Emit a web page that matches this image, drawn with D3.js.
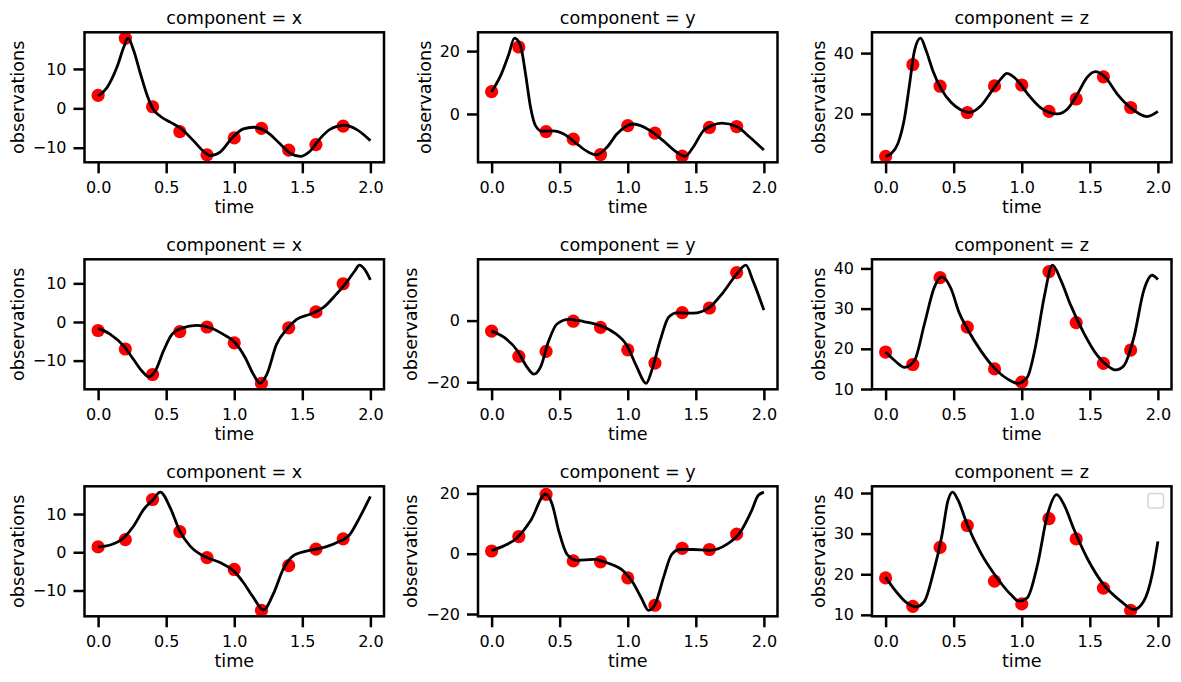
<!DOCTYPE html>
<html><head><meta charset="utf-8">
<script src="https://cdn.jsdelivr.net/npm/d3@7"></script>
<style>
body{margin:0;background:#fff}
svg{display:block}
text{font-family:"DejaVu Sans",sans-serif;fill:#000}
</style>
</head><body>
<svg id="chart" width="1181" height="682"></svg>
<script>
// ---------------- data ----------------
const sampleTimes = [0, 0.2, 0.4, 0.6, 0.8, 1.0, 1.2, 1.4, 1.6, 1.8];
const xTicks = [0, 0.5, 1.0, 1.5, 2.0];
const components = ["x", "y", "z"];

// observations (red points), one array per panel
const obsR1X = [3.3, 17.8, 0.4, -5.9, -11.8, -7.5, -5.1, -10.6, -9.2, -4.5];
const obsR1Y = [7.1, 21.3, -5.6, -8.0, -12.9, -3.7, -6.1, -13.4, -4.3, -4.0];
const obsR1Z = [6.0, 36.2, 29.1, 20.4, 29.2, 29.5, 20.8, 24.9, 32.2, 22.1];
const obsR2X = [-2.2, -7.0, -13.6, -2.5, -1.3, -5.4, -15.9, -1.5, 2.6, 9.9];
const obsR2Y = [-3.4, -11.6, -10.0, -0.2, -2.2, -9.5, -13.8, 2.6, 4.1, 15.6];
const obsR2Z = [19.2, 16.1, 37.7, 25.4, 15.0, 11.7, 39.2, 26.5, 16.4, 19.7];
const obsR3X = [1.4, 3.3, 13.8, 5.4, -1.4, -4.5, -15.2, -3.5, 0.8, 3.5];
const obsR3Y = [0.9, 5.7, 19.7, -2.4, -2.7, -8.0, -17.1, 1.8, 1.4, 6.5];
const obsR3Z = [19.1, 12.1, 26.6, 32.0, 18.3, 12.7, 33.7, 28.7, 16.6, 11.1];

// trajectory (black line), [time, value]
const trajR1X = [[0,3.1],[0.066,5.3],[0.14,10.6],[0.19,15.7],[0.22,17.8],[0.26,14.8],[0.31,8.9],[0.36,3.3],[0.40,0.0],[0.457,-2.0],[0.53,-3.5],[0.6,-4.9],[0.70,-8.2],[0.774,-10.9],[0.823,-12.0],[0.896,-11.1],[0.99,-7.3],[1.067,-5.2],[1.14,-4.8],[1.24,-6.0],[1.336,-9.0],[1.41,-11.4],[1.487,-12.2],[1.556,-10.9],[1.63,-7.7],[1.70,-5.4],[1.81,-4.3],[1.90,-5.4],[2.0,-8.2]];
const trajR1Y = [[0,7.1],[0.066,12.2],[0.127,19.1],[0.168,24.1],[0.212,21.8],[0.249,12.8],[0.286,2.1],[0.322,-3.7],[0.371,-5.5],[0.45,-5.4],[0.53,-6.4],[0.628,-9.6],[0.713,-12.2],[0.77,-13.0],[0.847,-10.6],[0.92,-6.4],[1.04,-3.2],[1.165,-5.3],[1.26,-8.5],[1.36,-12.2],[1.42,-13.5],[1.48,-10.6],[1.556,-5.3],[1.617,-3.7],[1.69,-2.9],[1.80,-4.0],[1.897,-7.4],[2.0,-11.5]];
const trajR1Z = [[0,6.0],[0.04,6.9],[0.09,10.2],[0.14,18.9],[0.176,29.8],[0.212,40.8],[0.256,44.9],[0.298,40.8],[0.347,34.2],[0.408,28.2],[0.48,23.8],[0.554,21.3],[0.615,20.5],[0.70,22.7],[0.786,27.9],[0.847,31.5],[0.891,33.3],[0.97,30.9],[1.043,26.6],[1.14,22.0],[1.262,20.0],[1.336,21.6],[1.41,26.6],[1.48,32.0],[1.54,33.9],[1.61,32.2],[1.70,26.6],[1.80,22.0],[1.92,19.1],[2.0,20.8]];
const trajR2X = [[0,-1.6],[0.09,-3.2],[0.188,-6.2],[0.26,-9.7],[0.322,-12.7],[0.371,-14.2],[0.42,-12.7],[0.48,-7.5],[0.542,-3.2],[0.615,-1.6],[0.725,-0.9],[0.823,-1.5],[0.92,-3.2],[1.006,-5.3],[1.08,-9.2],[1.14,-13.5],[1.19,-15.9],[1.24,-13.5],[1.31,-5.8],[1.385,-1.9],[1.458,0.7],[1.556,2.0],[1.653,3.7],[1.75,7.2],[1.824,10.2],[1.885,13.2],[1.92,14.7],[1.958,13.6],[2.0,10.9]];
const trajR2Y = [[0,-3.4],[0.09,-5.4],[0.188,-9.7],[0.26,-15.1],[0.31,-17.4],[0.359,-15.1],[0.42,-6.5],[0.48,-1.1],[0.567,0.4],[0.676,-0.3],[0.798,-1.6],[0.896,-3.8],[0.994,-8.1],[1.067,-15.1],[1.135,-20.4],[1.177,-16.1],[1.238,-6.5],[1.3,1.1],[1.36,2.5],[1.48,2.4],[1.6,4.3],[1.70,9.1],[1.80,15.1],[1.868,18.0],[1.92,12.9],[2.0,3.4]];
const trajR2Z = [[0,19.2],[0.066,17.1],[0.14,15.4],[0.212,17.1],[0.286,26.3],[0.359,35.4],[0.413,37.9],[0.48,35.0],[0.54,29.0],[0.6,25.0],[0.7,19.5],[0.8,15.2],[0.9,12.4],[0.97,11.4],[1.04,12.9],[1.10,20.4],[1.165,32.9],[1.226,40.8],[1.287,37.1],[1.36,30.8],[1.458,23.8],[1.556,18.3],[1.63,15.8],[1.69,14.75],[1.75,15.8],[1.824,22.9],[1.897,34.6],[1.958,38.3],[2.0,37.25]];
const trajR3X = [[0,1.4],[0.09,1.9],[0.188,3.8],[0.26,6.8],[0.335,11.2],[0.4,13.6],[0.457,15.7],[0.53,11.6],[0.6,5.5],[0.676,1.6],[0.774,-1.0],[0.896,-2.7],[0.994,-4.8],[1.067,-7.9],[1.14,-11.8],[1.214,-15.1],[1.287,-10.9],[1.36,-4.4],[1.43,-1.0],[1.53,0.3],[1.63,1.0],[1.75,2.5],[1.85,4.7],[1.92,9.0],[2.0,14.6]];
const trajR3Y = [[0,1.1],[0.09,2.6],[0.188,5.3],[0.286,10.9],[0.396,19.8],[0.444,16.5],[0.493,7.6],[0.554,-0.2],[0.628,-2.2],[0.75,-1.9],[0.847,-3.0],[0.97,-5.8],[1.04,-9.7],[1.1,-14.7],[1.153,-18.8],[1.2,-16.9],[1.262,-8.0],[1.323,-0.2],[1.384,1.4],[1.48,1.4],[1.6,1.1],[1.727,3.1],[1.824,7.0],[1.91,14.3],[1.958,19.3],[2.0,20.4]];
const trajR3Z = [[0,19.3],[0.066,16.2],[0.14,13.4],[0.225,12.0],[0.286,13.4],[0.347,19.9],[0.415,29.8],[0.457,38.0],[0.493,40.2],[0.53,38.4],[0.6,32.2],[0.70,25.2],[0.823,18.9],[0.92,15.0],[0.98,13.4],[1.04,14.2],[1.116,22.4],[1.189,34.7],[1.257,39.6],[1.311,37.1],[1.384,31.0],[1.48,24.0],[1.6,17.5],[1.727,13.4],[1.824,11.3],[1.897,13.4],[1.958,19.9],[2.0,28.1]];

// y tick values per panel
const yTicksR1X = [-10, 0, 10];
const yTicksR1Y = [0, 20];
const yTicksR1Z = [20, 40];
const yTicksR2X = [-10, 0, 10];
const yTicksR2Y = [-20, 0];
const yTicksR2Z = [10, 20, 30, 40];
const yTicksR3X = [-10, 0, 10];
const yTicksR3Y = [-20, 0, 20];
const yTicksR3Z = [10, 20, 30, 40];

const panels = [
  {row:0, col:0, comp:components[0], obs:obsR1X, traj:trajR1X, yTicks:yTicksR1X},
  {row:0, col:1, comp:components[1], obs:obsR1Y, traj:trajR1Y, yTicks:yTicksR1Y},
  {row:0, col:2, comp:components[2], obs:obsR1Z, traj:trajR1Z, yTicks:yTicksR1Z},
  {row:1, col:0, comp:components[0], obs:obsR2X, traj:trajR2X, yTicks:yTicksR2X},
  {row:1, col:1, comp:components[1], obs:obsR2Y, traj:trajR2Y, yTicks:yTicksR2Y},
  {row:1, col:2, comp:components[2], obs:obsR2Z, traj:trajR2Z, yTicks:yTicksR2Z},
  {row:2, col:0, comp:components[0], obs:obsR3X, traj:trajR3X, yTicks:yTicksR3X},
  {row:2, col:1, comp:components[1], obs:obsR3Y, traj:trajR3Y, yTicks:yTicksR3Y},
  {row:2, col:2, comp:components[2], obs:obsR3Z, traj:trajR3Z, yTicks:yTicksR3Z, legend:true}
];

// ---------------- layout ----------------
const colLeft = [84.5, 478, 872];
const rowTop = [32.3, 259.3, 486.3];
const axW = 299.5, axH = 130;
const tickLen = 11, tickW = 2.5, spineW = 2.5;
const tickFont = 16, labelFont = 17.6;

const svg = d3.select("#chart");

function padded(ext) {
  const m = (ext[1] - ext[0]) * 0.05;
  return [ext[0] - m, ext[1] + m];
}

panels.forEach((p, i) => {
  const g = svg.append("g").attr("transform", `translate(${colLeft[p.col]},${rowTop[p.row]})`);

  const tExt = d3.extent(p.traj.map(d => d[0]).concat(sampleTimes));
  const vExt = d3.extent(p.traj.map(d => d[1]).concat(p.obs));
  const x = d3.scaleLinear().domain(padded(tExt)).range([0, axW]);
  const y = d3.scaleLinear().domain(padded(vExt)).range([axH, 0]);

  const clipId = "clip" + i;
  g.append("clipPath").attr("id", clipId)
    .append("rect").attr("width", axW).attr("height", axH);

  const plot = g.append("g").attr("clip-path", `url(#${clipId})`);

  // scatter
  plot.selectAll("circle").data(p.obs).join("circle")
    .attr("cx", (d, j) => x(sampleTimes[j]))
    .attr("cy", d => y(d))
    .attr("r", 6.6)
    .attr("fill", "#ff0000");

  // line
  const line = d3.line().x(d => x(d[0])).y(d => y(d[1])).curve(d3.curveMonotoneX);
  plot.append("path").datum(p.traj)
    .attr("d", line)
    .attr("fill", "none")
    .attr("stroke", "#000")
    .attr("stroke-width", 2.8)
    .attr("stroke-linejoin", "round")
    .attr("stroke-linecap", "butt");

  // axes
  const xAxis = d3.axisBottom(x).tickValues(xTicks).tickFormat(d3.format(".1f"))
    .tickSize(tickLen).tickPadding(8);
  const gx = g.append("g").attr("transform", `translate(0,${axH})`).call(xAxis);
  gx.select(".domain").remove();
  gx.selectAll(".tick line").attr("stroke", "#000").attr("stroke-width", tickW);
  gx.selectAll(".tick text").attr("font-size", tickFont).attr("fill", "#000")
    .attr("font-family", '"DejaVu Sans",sans-serif');

  const yAxis = d3.axisLeft(y).tickValues(p.yTicks).tickFormat(d3.format("d"))
    .tickSize(tickLen).tickPadding(7);
  const gy = g.append("g").call(yAxis);
  gy.select(".domain").remove();
  gy.selectAll(".tick line").attr("stroke", "#000").attr("stroke-width", tickW);
  gy.selectAll(".tick text").attr("font-size", tickFont).attr("fill", "#000")
    .attr("font-family", '"DejaVu Sans",sans-serif');

  let maxW = 0;
  gy.selectAll(".tick text").each(function () { maxW = Math.max(maxW, this.getBBox().width); });

  // spines
  g.append("rect").attr("width", axW).attr("height", axH)
    .attr("fill", "none").attr("stroke", "#000").attr("stroke-width", spineW);

  // title
  g.append("text").attr("x", axW / 2).attr("y", -8.3)
    .attr("text-anchor", "middle").attr("font-size", labelFont)
    .text(`component = ${p.comp}`);

  // x label
  g.append("text").attr("x", axW / 2).attr("y", axH + 51)
    .attr("text-anchor", "middle").attr("font-size", labelFont)
    .text("time");

  // y label
  const lx = -(tickLen + 7 + maxW + 9);
  g.append("text")
    .attr("transform", `translate(${lx},${axH / 2}) rotate(-90)`)
    .attr("text-anchor", "middle").attr("font-size", labelFont)
    .text("observations");

  // empty legend
  if (p.legend) {
    g.append("rect")
      .attr("x", axW - 8 - 15.5).attr("y", 7.3)
      .attr("width", 15.5).attr("height", 14.5)
      .attr("rx", 2.5).attr("ry", 2.5)
      .attr("fill", "#fff").attr("fill-opacity", 0.8)
      .attr("stroke", "#d6d6d6").attr("stroke-width", 1.5);
  }
});
</script>
</body></html>
